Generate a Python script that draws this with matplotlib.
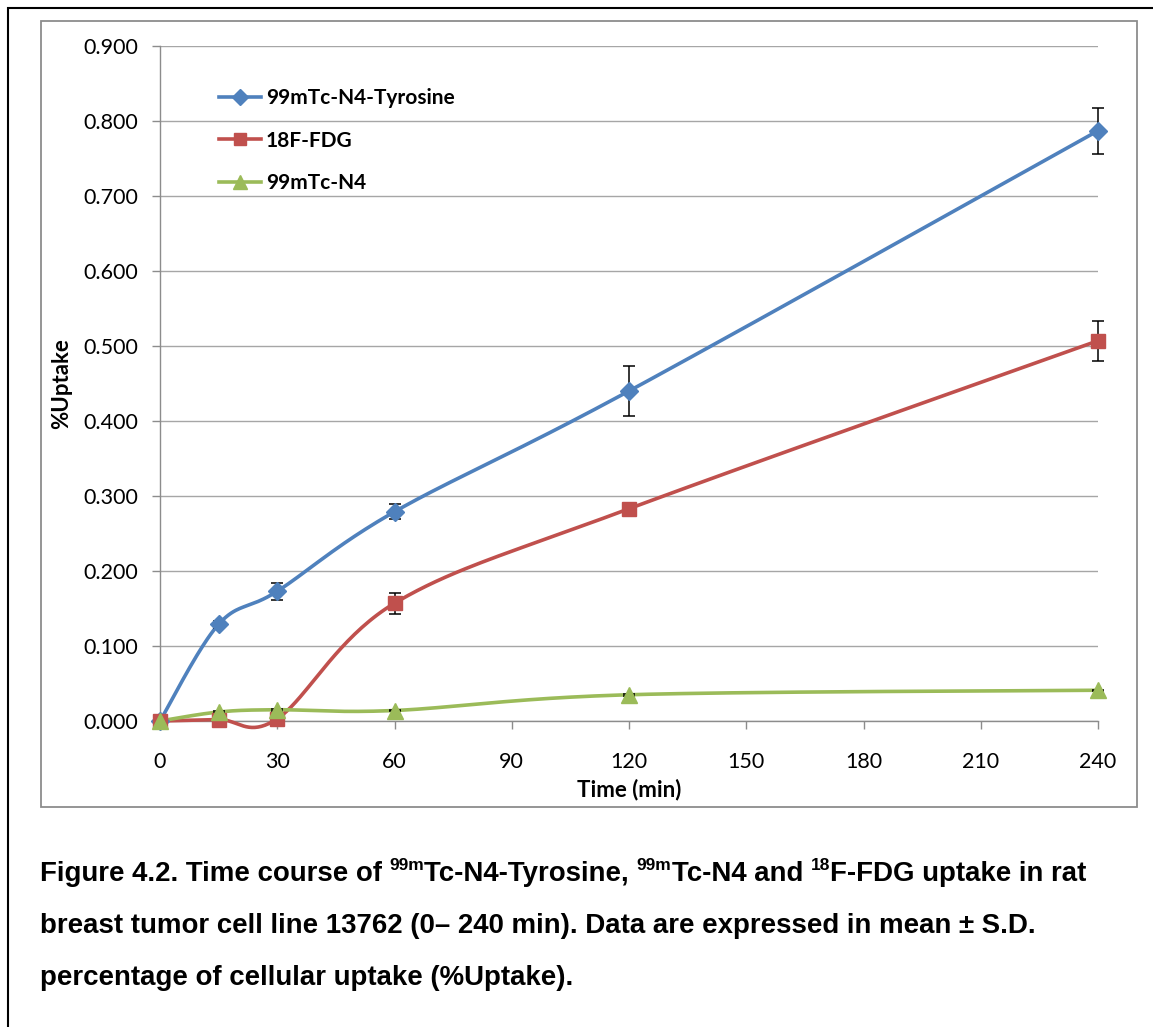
import matplotlib.pyplot as plt
import numpy as np
from matplotlib.patches import Rectangle

# uptake time course, mean and S.D.
time_min = [0, 15, 30, 60, 120, 240]
tyr_mean = [0.000, 0.129, 0.173, 0.279, 0.440, 0.787]
tyr_sd = [0.000, 0.005, 0.011, 0.010, 0.033, 0.031]
fdg_mean = [0.000, 0.002, 0.003, 0.157, 0.283, 0.507]
fdg_sd = [0.000, 0.001, 0.002, 0.014, 0.000, 0.027]
n4_mean = [0.000, 0.012, 0.015, 0.014, 0.035, 0.041]
n4_sd = [0.000, 0.001, 0.001, 0.001, 0.001, 0.001]

x_ticks = [0, 30, 60, 90, 120, 150, 180, 210, 240]
y_ticks = [0.0, 0.1, 0.2, 0.3, 0.4, 0.5, 0.6, 0.7, 0.8, 0.9]

BLUE = "#4F81BD"
RED = "#C0504D"
GREEN = "#9BBB59"
GRID = "#A6A6A6"


def smooth_curve(x, y, steps=40):
    # spreadsheet-style smoothed line: cubic bezier through each pair of points
    p = np.column_stack([x, y]).astype(float)
    n = len(p)
    pts = []
    for i in range(n - 1):
        p0 = p[max(i - 1, 0)]
        p1 = p[i]
        p2 = p[i + 1]
        p3 = p[min(i + 2, n - 1)]
        c1 = p1 + (p2 - p0) / 6
        c2 = p2 - (p3 - p1) / 6
        s = np.linspace(0, 1, steps)[:, None]
        seg = (1 - s) ** 3 * p1 + 3 * (1 - s) ** 2 * s * c1 + 3 * (1 - s) * s ** 2 * c2 + s ** 3 * p2
        pts.append(seg if i == 0 else seg[1:])
    pts = np.vstack(pts)
    return pts[:, 0], pts[:, 1]


W, H = 1153, 1027
fig = plt.figure(figsize=(W / 100, H / 100), dpi=100)
fig.patch.set_facecolor("white")

# outer black border and gray chart frame
fig.add_artist(Rectangle((8 / W, -0.1), 1.2, 1 - 8 / H + 0.1, transform=fig.transFigure,
                         fill=False, edgecolor="black", linewidth=1.5))
fig.add_artist(Rectangle((41 / W, 1 - 807 / H), (1137 - 41) / W, (807 - 21) / H,
                         transform=fig.transFigure, fill=False, edgecolor="#8C8C8C", linewidth=1.3))

ax = fig.add_axes([160 / W, 1 - 721 / H, (1098 - 160) / W, (721 - 46) / H])
ax.set_xlim(0, 240)
ax.set_ylim(0, 0.9)
ax.set_xticks(x_ticks)
ax.set_yticks(y_ticks)
ax.set_yticklabels([f"{v:.3f}" for v in y_ticks])
ax.yaxis.grid(True, color=GRID, linewidth=1.0)
ax.set_axisbelow(True)
for side in ["top", "right"]:
    ax.spines[side].set_visible(False)
for side in ["left", "bottom"]:
    ax.spines[side].set_color("#8C8C8C")
    ax.spines[side].set_linewidth(1.0)
ax.tick_params(axis="both", direction="out", length=6, width=1.0, color="#8C8C8C",
               labelsize=15.5)
ax.tick_params(axis="x", pad=16)
ax.tick_params(axis="y", pad=10)
for lab in ax.get_xticklabels() + ax.get_yticklabels():
    lab.set_fontfamily("Lato")

series = [
    ("99mTc-N4-Tyrosine", tyr_mean, tyr_sd, BLUE, "D", 9),
    ("18F-FDG", fdg_mean, fdg_sd, RED, "s", 10),
    ("99mTc-N4", n4_mean, n4_sd, GREEN, "^", 11),
]
handles = []
for name, mean, sd, color, marker, ms in series:
    xs, ys = smooth_curve(time_min, mean)
    ax.plot(xs, ys, color=color, linewidth=2.6, zorder=3, clip_on=False)
    ax.errorbar(time_min, mean, yerr=sd, fmt="none", ecolor="black", elinewidth=1.1,
                capsize=4, capthick=1.1, zorder=4, clip_on=False)
    ax.plot(time_min, mean, linestyle="none", marker=marker, markersize=ms, color=color,
            zorder=5, clip_on=False)
    (h,) = ax.plot([], [], color=color, linewidth=2.6, marker=marker, markersize=ms - 1)
    handles.append((h, name))

leg = ax.legend([h for h, _ in handles], [n for _, n in handles], loc="upper left",
                bbox_to_anchor=(0.043, 0.965), frameon=False, handlelength=2.0,
                handletextpad=0.25, labelspacing=1.07,
                prop={"family": "Lato", "weight": "bold", "size": 15})

ax.set_xlabel("Time (min)", fontfamily="Lato", fontweight="bold", fontsize=16, labelpad=5)
ax.set_ylabel("%Uptake", fontfamily="Lato", fontweight="bold", fontsize=16, labelpad=8)

# figure caption with superscript isotope labels
renderer = fig.canvas.get_renderer()
cap_font = {"family": "Liberation Sans", "weight": "bold"}
cap_lines = [
    [("Figure 4.2. Time course of ", 0), ("99m", 1), ("Tc-N4-Tyrosine, ", 0), ("99m", 1),
     ("Tc-N4 and ", 0), ("18", 1), ("F-FDG uptake in rat", 0)],
    [("breast tumor cell line 13762 (0\u2013 240 min). Data are expressed in mean \u00b1 S.D.", 0)],
    [("percentage of cellular uptake (%Uptake).", 0)],
]
baselines = [881, 933, 985]
for line, base in zip(cap_lines, baselines):
    x_px = 40
    for txt, sup in line:
        size = 12.5 if sup else 19.9
        y_px = base - 11 if sup else base
        t = fig.text(x_px / W, 1 - y_px / H, txt, fontsize=size, va="baseline", ha="left",
                     **cap_font)
        x_px += t.get_window_extent(renderer).width

fig.savefig("out.png", dpi=100, facecolor="white")
